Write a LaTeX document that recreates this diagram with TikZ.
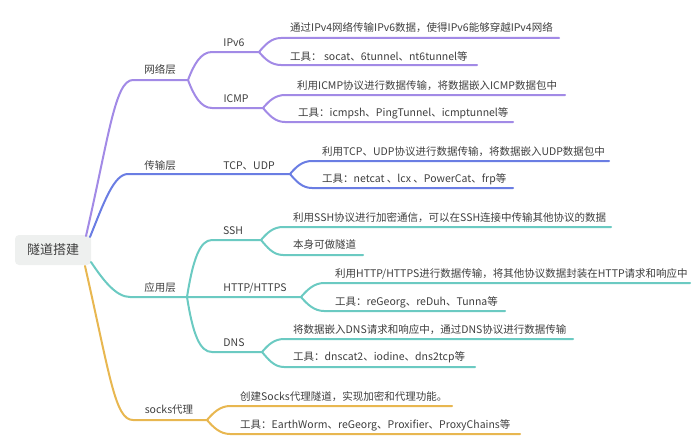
\documentclass[tikz,border=0pt]{standalone}
\usepackage{fontspec}
\setmainfont{Noto Sans CJK SC}
\definecolor{cpur}{HTML}{A28AE6}
\definecolor{cblue}{HTML}{6A7DE3}
\definecolor{cteal}{HTML}{6BCAC2}
\definecolor{cyel}{HTML}{E8B750}
\definecolor{ctext}{HTML}{3E3E3E}
\definecolor{croot}{HTML}{EEF0EF}
\begin{document}
\begin{tikzpicture}[x=1pt,y=-1pt,
  br/.style={line width=2pt, line cap=round, line join=round},
  leaf/.style={font=\fontsize{10.5}{12}\selectfont, text=ctext, inner sep=0pt, anchor=base west},
  cat/.style={font=\fontsize{10.5}{12}\selectfont, text=ctext, inner sep=0pt, anchor=base},
  rootbox/.style={fill=croot, rounded corners=4pt, minimum width=76pt, minimum height=30pt, inner sep=0pt, text=ctext, font=\fontsize{13}{15}\selectfont}
]
\useasboundingbox (0,0) rectangle (692,444);

% root
\node[rootbox] (root) at (53,250) {隧道搭建};

% ---------- purple: 网络层 ----------
\coordinate (p0) at (86,236);
\coordinate (p1) at (133,80);
\coordinate (p2) at (188,80);
\coordinate (p3) at (212,52);
\coordinate (p4) at (259,52);
\coordinate (p5) at (281,38);
\coordinate (p6) at (559,38);
\coordinate (p7) at (281,65);
\coordinate (p8) at (477,65);
\coordinate (p9) at (212,108);
\coordinate (p10) at (263,108);
\coordinate (p11) at (285,95);
\coordinate (p12) at (565,95);
\coordinate (p13) at (285,122);
\coordinate (p14) at (513,122);
\begin{scope}[br, draw=cpur]
\draw (p0) .. controls +(23,-100) and +(-18,0) .. (p1) -- (p2);
\draw (p2) .. controls +(6,-16) and +(-11,0) .. (p3) -- (p4);
\draw (p2) .. controls +(6,16) and +(-11,0) .. (p9) -- (p10);
\draw (p4) .. controls +(6,-7) and +(-10,0) .. (p5) -- (p6);
\draw (p4) .. controls +(6,7) and +(-10,0) .. (p7) -- (p8);
\draw (p10) .. controls +(6,-7) and +(-10,0) .. (p11) -- (p12);
\draw (p10) .. controls +(6,7) and +(-10,0) .. (p13) -- (p14);
\end{scope}
\node[cat] (lnet) at (160,74) {网络层};
\node[cat] (lipv6) at (234,46) {IPv6};
\node[cat] (licmp) at (236,102) {ICMP};
\node[leaf] (tipv6a) at (290,32) {通过IPv4网络传输IPv6数据，使得IPv6能够穿越IPv4网络};
\node[leaf] (tipv6b) at (290,60) {工具： socat、6tunnel、nt6tunnel等};
\node[leaf] (ticmpa) at (297,89) {利用ICMP协议进行数据传输，将数据嵌入ICMP数据包中};
\node[leaf] (ticmpb) at (298,116) {工具：icmpsh、PingTunnel、icmptunnel等};

% ---------- blue: 传输层 ----------
\coordinate (b0) at (90,237);
\coordinate (b1) at (128,174);
\coordinate (b3) at (290,174);
\coordinate (b4) at (312,161);
\coordinate (b5) at (609,161);
\coordinate (b6) at (312,188);
\coordinate (b7) at (513,188);
\begin{scope}[br, draw=cblue]
\draw (b0) .. controls +(14,-35) and +(-14,0) .. (b1) -- (b3);
\draw (b3) .. controls +(6,-7) and +(-10,0) .. (b4) -- (b5);
\draw (b3) .. controls +(6,7) and +(-10,0) .. (b6) -- (b7);
\end{scope}
\node[cat] (ltrans) at (160,169) {传输层};
\node[cat] (ltcp) at (249,169) {TCP、UDP};
\node[leaf] (ttcpa) at (322,155) {利用TCP、UDP协议进行数据传输，将数据嵌入UDP数据包中};
\node[leaf] (ttcpb) at (322,182) {工具：netcat 、lcx 、PowerCat、frp等};

% ---------- teal: 应用层 ----------
\coordinate (t0) at (91,262);
\coordinate (t1) at (130,297);
\coordinate (t2) at (187,297);
\coordinate (t3) at (212,240);
\coordinate (t4) at (261,240);
\coordinate (t5) at (283,227);
\coordinate (t6) at (611,227);
\coordinate (t7) at (283,255);
\coordinate (t8) at (363,255);
\coordinate (t9) at (301,297);
\coordinate (t10) at (324,283);
\coordinate (t11) at (690,283);
\coordinate (t12) at (324,311);
\coordinate (t13) at (505,311);
\coordinate (t14) at (212,352);
\coordinate (t15) at (262,352);
\coordinate (t16) at (284,339);
\coordinate (t17) at (573,339);
\coordinate (t18) at (284,367);
\coordinate (t19) at (475,367);
\begin{scope}[br, draw=cteal]
\draw (t0) .. controls +(12,18) and +(-14,0) .. (t1) -- (t2) -- (t9);
\draw (t2) .. controls +(6,-38) and +(-12,0) .. (t3) -- (t4);
\draw (t2) .. controls +(6,38) and +(-12,0) .. (t14) -- (t15);
\draw (t4) .. controls +(6,-7) and +(-10,0) .. (t5) -- (t6);
\draw (t4) .. controls +(6,7) and +(-10,0) .. (t7) -- (t8);
\draw (t9) .. controls +(6,-7) and +(-10,0) .. (t10) -- (t11);
\draw (t9) .. controls +(6,7) and +(-10,0) .. (t12) -- (t13);
\draw (t15) .. controls +(6,-7) and +(-10,0) .. (t16) -- (t17);
\draw (t15) .. controls +(6,7) and +(-10,0) .. (t18) -- (t19);
\end{scope}
\node[cat] (lapp) at (160,291) {应用层};
\node[cat] (lssh) at (233,234) {SSH};
\node[cat] (lhttp) at (255,291) {HTTP/HTTPS};
\node[cat] (ldns) at (234,346) {DNS};
\node[leaf] (tssha) at (293,221) {利用SSH协议进行加密通信，可以在SSH连接中传输其他协议的数据};
\node[leaf] (tsshb) at (293,248) {本身可做隧道};
\node[leaf] (thttpa) at (335,277) {利用HTTP/HTTPS进行数据传输，将其他协议数据封装在HTTP请求和响应中};
\node[leaf] (thttpb) at (335,305) {工具：reGeorg、reDuh、Tunna等};
\node[leaf] (tdnsa) at (293,333) {将数据嵌入DNS请求和响应中，通过DNS协议进行数据传输};
\node[leaf] (tdnsb) at (293,360) {工具：dnscat2、iodine、dns2tcp等};

% ---------- yellow: socks代理 ----------
\coordinate (y0) at (85,266);
\coordinate (y1) at (133,420);
\coordinate (y2) at (207,420);
\coordinate (y3) at (230,406);
\coordinate (y4) at (452,406);
\coordinate (y5) at (230,434);
\coordinate (y6) at (520,434);
\begin{scope}[br, draw=cyel]
\draw (y0) .. controls +(25,110) and +(-18,0) .. (y1) -- (y2);
\draw (y2) .. controls +(6,-7) and +(-10,0) .. (y3) -- (y4);
\draw (y2) .. controls +(6,7) and +(-10,0) .. (y5) -- (y6);
\end{scope}
\node[cat] (lsocks) at (169,413) {socks代理};
\node[leaf] (tsocksa) at (240,400) {创建Socks代理隧道，实现加密和代理功能。};
\node[leaf] (tsocksb) at (240,428) {工具：EarthWorm、reGeorg、Proxifier、ProxyChains等};
\end{tikzpicture}
\end{document}
